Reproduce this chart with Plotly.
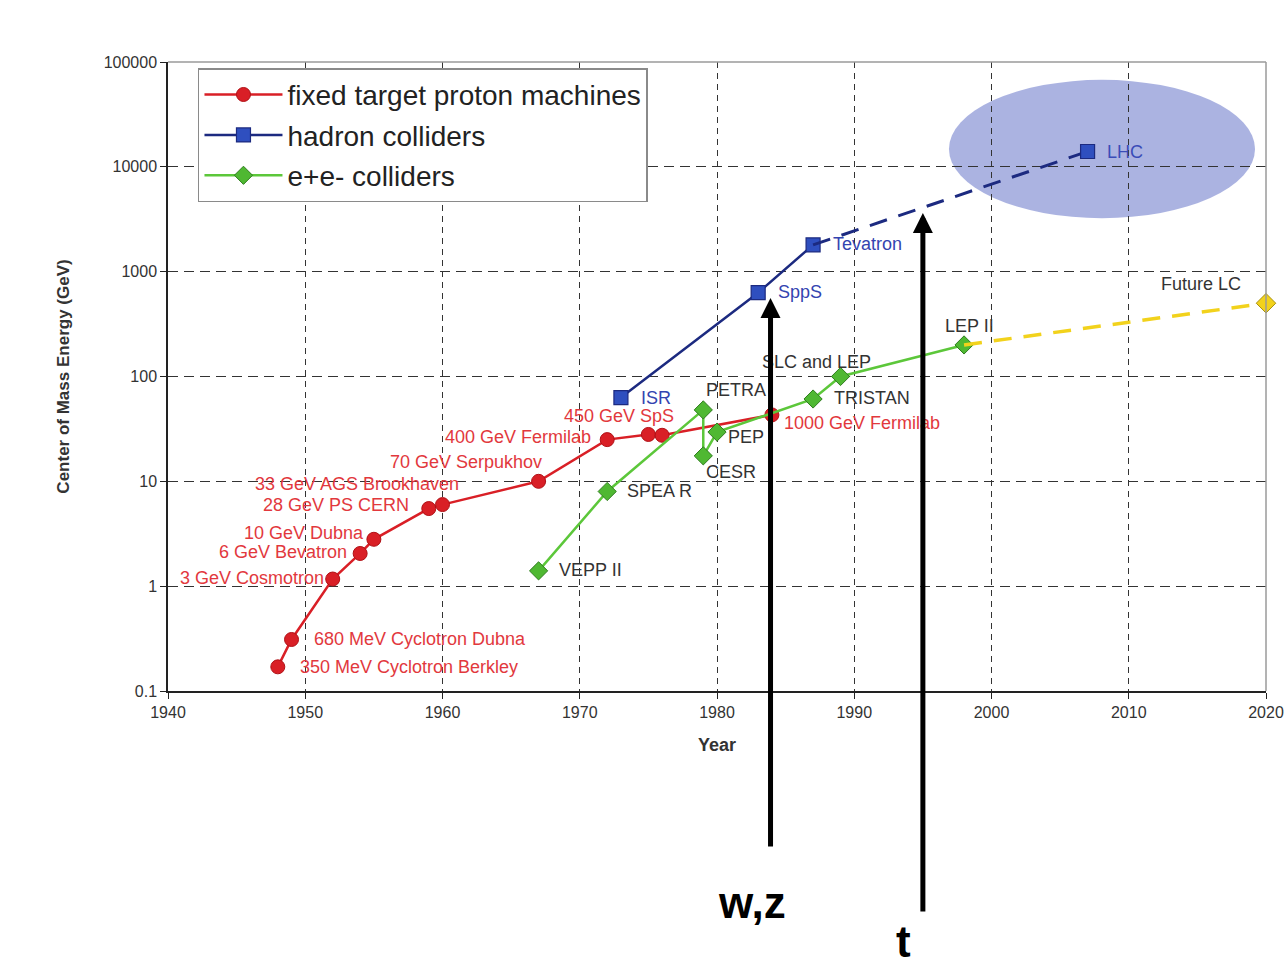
import math
import plotly.graph_objects as go

# ---------------- data ----------------
fixed_years = [1948, 1949, 1952, 1954, 1955, 1959, 1960, 1967, 1972, 1975, 1976, 1984]
fixed_energy = [0.17, 0.31, 1.17, 2.05, 2.8, 5.5, 6.0, 10, 25, 28, 27.5, 43]
fixed_labels = ["350 MeV Cyclotron Berkley", "680 MeV Cyclotron Dubna", "3 GeV Cosmotron",
                "6 GeV Bevatron", "10 GeV Dubna", "28 GeV PS CERN", "33 GeV AGS Brookhaven",
                "70 GeV Serpukhov", "400 GeV Fermilab", "450 GeV SpS", None, "1000 GeV Fermilab"]

hadron_years = [1973, 1983, 1987]
hadron_energy = [63, 630, 1800]
hadron_labels = ["ISR", "SppS", "Tevatron"]

lhc_year = [2007]
lhc_energy = [14000]
lhc_label = ["LHC"]

ee_years = [1967, 1972, 1979, 1979, 1980, 1987, 1989, 1998]
ee_energy = [1.4, 8, 48, 17.5, 29.5, 61, 100, 200]
ee_labels = ["VEPP II", "SPEA R", "PETRA", "CESR", "PEP", "TRISTAN", "SLC and LEP", "LEP II"]

future_year = [2020]
future_energy = [500]
future_label = ["Future LC"]

# LHC highlight region (years, GeV)
lhc_zone_years = [1996.9, 2019.2]
lhc_zone_energy = [3240, 67600]

# discoveries marked by arrows: (label, year, energy at arrow tip)
arrow_marks = [("w,z", 1983.9, 560), ("t", 1995.0, 3620)]

# ---------------- styles ----------------
RED = "#d91f26"
RED_TXT = "#e2383d"
NAVY = "#1c2a80"
BLUE = "#2f4fbf"
GREEN = "#5cc73a"
GREEN_MK = "#4fb832"
YELLOW = "#f2d21c"
FONT = "Arial, Liberation Sans, sans-serif"

fig = go.Figure()

fig.add_trace(go.Scatter(
    x=fixed_years, y=fixed_energy, mode="lines+markers", name="fixed target proton machines",
    line=dict(color=RED, width=2.5),
    marker=dict(symbol="circle", size=14, color=RED, line=dict(color="#b01015", width=1)),
    legendgroup="a", cliponaxis=False))

fig.add_trace(go.Scatter(
    x=hadron_years, y=hadron_energy, mode="lines+markers", name="hadron colliders",
    line=dict(color=NAVY, width=2.5),
    marker=dict(symbol="square", size=14, color=BLUE, line=dict(color=NAVY, width=1.2)),
    legendgroup="b"))

fig.add_trace(go.Scatter(
    x=[hadron_years[-1]] + lhc_year, y=[hadron_energy[-1]] + lhc_energy, mode="lines",
    line=dict(color=NAVY, width=3, dash="18px,12px"), showlegend=False, hoverinfo="skip"))
fig.add_trace(go.Scatter(
    x=lhc_year, y=lhc_energy, mode="markers",
    marker=dict(symbol="square", size=14, color=BLUE, line=dict(color=NAVY, width=1.2)),
    showlegend=False))

fig.add_trace(go.Scatter(
    x=ee_years, y=ee_energy, mode="lines+markers", name="e+e- colliders",
    line=dict(color=GREEN, width=2.5),
    marker=dict(symbol="diamond", size=14, color=GREEN_MK, line=dict(color="#2f7d1e", width=1)),
    legendgroup="c"))

fig.add_trace(go.Scatter(
    x=[ee_years[-1]] + future_year, y=[ee_energy[-1]] + future_energy, mode="lines",
    line=dict(color=YELLOW, width=3.5, dash="18px,12px"), showlegend=False, hoverinfo="skip"))
fig.add_trace(go.Scatter(
    x=future_year, y=future_energy, mode="markers",
    marker=dict(symbol="diamond", size=15, color=YELLOW, line=dict(color="#a89010", width=1)),
    showlegend=False, cliponaxis=False))

# ---------------- labels ----------------
# pixel offsets (xanchor, xshift, yshift) for each label
fixed_off = [("left", 20, 0), ("left", 20, 0), ("right", -7, 1), ("right", -11, 1),
             ("right", -8, 6), ("right", -18, 4), ("right", 18, 21), ("right", 5, 19),
             ("right", -14, 3), ("right", 28, 18), None, ("left", 10, -8)]
hadron_off = [("left", 18, 0), ("left", 18, 1), ("left", 18, 1)]
ee_off = [("left", 18, 1), ("left", 18, 0), ("left", 1, 20), ("left", 1, -16),
          ("left", 9, -5), ("left", 19, 1), ("center", -24, 15), ("center", 5, 19)]

annotations = []


def add_labels(xs, ys, labels, offs, color, size):
    for x, y, t, o in zip(xs, ys, labels, offs):
        if t is None:
            continue
        annotations.append(dict(
            x=x, y=math.log10(y), xref="x", yref="y", text=t, showarrow=False,
            xanchor=o[0], yanchor="middle", xshift=o[1], yshift=o[2],
            font=dict(family=FONT, size=size, color=color)))


add_labels(fixed_years, fixed_energy, fixed_labels, fixed_off, RED_TXT, 18)
add_labels(hadron_years, hadron_energy, hadron_labels, hadron_off, "#3344b0", 18)
add_labels(lhc_year, lhc_energy, lhc_label, [("left", 17, 0)], "#3a4cb8", 18)
add_labels(ee_years, ee_energy, ee_labels, ee_off, "#333333", 18)
add_labels(future_year, future_energy, future_label, [("right", -23, 19)], "#333333", 18)

# arrows
arrow_tails = [557, 707]
text_pos = [(0.532, -0.337), (0.670, -0.398)]
for (lab, yr, en), ay, (tx, ty) in zip(arrow_marks, arrow_tails, text_pos):
    annotations.append(dict(
        x=yr, y=math.log10(en), xref="x", yref="y", text=" ", showarrow=True,
        ax=0, ay=ay, axref="pixel", ayref="pixel",
        arrowhead=2, arrowsize=0.8, arrowwidth=5, arrowcolor="#000000"))
    annotations.append(dict(
        x=tx, y=ty, xref="paper", yref="paper", text="<b>" + lab + "</b>", showarrow=False,
        xanchor="center", yanchor="middle",
        font=dict(family=FONT, size=44, color="#000000")))

shapes = [
    dict(type="circle", xref="x", yref="y",
         x0=lhc_zone_years[0], x1=lhc_zone_years[1],
         y0=lhc_zone_energy[0], y1=lhc_zone_energy[1],
         fillcolor="rgba(120,132,206,0.62)", line=dict(width=0), layer="below"),
    dict(type="line", xref="paper", yref="paper", x0=0, x1=1, y0=1, y1=1,
         line=dict(color="#9a9a9a", width=1.5)),
    dict(type="line", xref="paper", yref="paper", x0=1, x1=1, y0=0, y1=1,
         line=dict(color="#9a9a9a", width=1.5)),
]

fig.update_layout(
    width=1286, height=976,
    margin=dict(l=168, r=20, t=62, b=285, autoexpand=False),
    paper_bgcolor="white", plot_bgcolor="white",
    font=dict(family=FONT, color="#333333"),
    annotations=annotations, shapes=shapes,
    legend=dict(
        x=0.0273, y=0.990, xanchor="left", yanchor="top",
        bgcolor="white", bordercolor="#8a8a8a", borderwidth=1.5,
        font=dict(family=FONT, size=28, color="#222222"),
        itemwidth=78, tracegroupgap=1, traceorder="grouped"),
    showlegend=True,
)

fig.update_xaxes(
    range=[1940, 2020], tickmode="array", tickvals=list(range(1940, 2021, 10)),
    showline=True, linecolor="#222222", linewidth=1.5,
    ticks="outside", ticklen=6, tickcolor="#222222",
    tickfont=dict(family=FONT, size=16, color="#333333"),
    showgrid=True, gridcolor="#333333", gridwidth=1.2, griddash="6px,5px",
    zeroline=False, automargin=False,
    title=dict(text="<b>Year</b>", font=dict(family=FONT, size=18, color="#333333"), standoff=18))

fig.update_yaxes(
    type="log", range=[-1, 5], tickmode="array",
    tickvals=[0.1, 1, 10, 100, 1000, 10000, 100000],
    ticktext=["0.1", "1", "10", "100", "1000", "10000", "100000"],
    showline=True, linecolor="#222222", linewidth=1.5,
    ticks="outside", ticklen=6, tickcolor="#222222",
    tickfont=dict(family=FONT, size=16, color="#333333"),
    showgrid=True, gridcolor="#333333", gridwidth=1.2, griddash="10px,6px",
    zeroline=False, automargin=False,
    title=dict(text="<b>Center of Mass Energy (GeV)</b>",
               font=dict(family=FONT, size=17, color="#333333"), standoff=30))

fig.write_html("out.html")
